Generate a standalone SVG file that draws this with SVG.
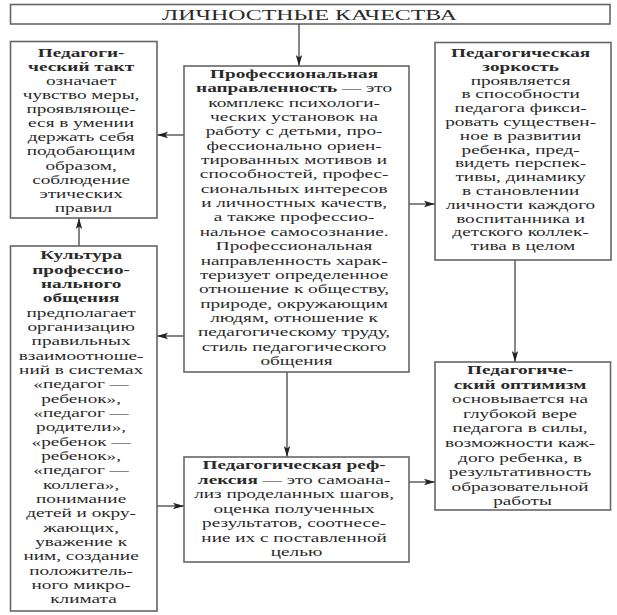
<svg xmlns="http://www.w3.org/2000/svg" width="617" height="615" viewBox="0 0 617 615">
<style>
.box{fill:#fff;stroke:#666;stroke-width:1.6}
.t{font-family:"Liberation Serif","Times New Roman",serif;font-size:13px;fill:#2a2a2a;text-anchor:middle}
.b{font-weight:bold}
.c{stroke:#444;stroke-width:1.3;fill:none}
</style>
<defs>
<marker id="ah" markerUnits="userSpaceOnUse" markerWidth="12" markerHeight="8" refX="11" refY="4" orient="auto">
<path d="M0,0.8 L11,4 L0,7.2 L2.5,4 Z" fill="#222"/>
</marker>
</defs>
<rect width="617" height="615" fill="#fff"/>

<g id="title">
<rect class="box" x="10.5" y="4.5" width="599.5" height="19.5"/>
<text class="t" style="font-size:14px" x="309.5" y="20" textLength="295" lengthAdjust="spacingAndGlyphs">ЛИЧНОСТНЫЕ КАЧЕСТВА</text>
</g>

<g id="connectors">
<line class="c" x1="299" y1="24" x2="299" y2="66" marker-end="url(#ah)"/>
<line class="c" x1="184" y1="135" x2="157" y2="135" marker-end="url(#ah)"/>
<line class="c" x1="409" y1="204" x2="435" y2="204" marker-end="url(#ah)"/>
<line class="c" x1="79" y1="246" x2="79" y2="218" marker-end="url(#ah)"/>
<line class="c" x1="184" y1="336" x2="157" y2="336" marker-end="url(#ah)"/>
<line class="c" x1="287" y1="372" x2="287" y2="457" marker-end="url(#ah)"/>
<line class="c" x1="157" y1="506" x2="184" y2="506" marker-end="url(#ah)"/>
<line class="c" x1="515" y1="260" x2="515" y2="362" marker-end="url(#ah)"/>
<line class="c" x1="409" y1="482" x2="435" y2="482" marker-end="url(#ah)"/>
</g>

<g id="tact">
<rect class="box" x="10.5" y="41.5" width="146.5" height="176.5"/>
<g transform="translate(83.5,0) scale(1.48,1)">
<text class="t">
<tspan class="b" x="0" y="57">Педагоги-</tspan>
<tspan class="b" x="0" y="71">ческий такт</tspan>
<tspan x="0" y="85">означает</tspan>
<tspan x="0" y="99">чувство меры,</tspan>
<tspan x="0" y="113">проявляюще-</tspan>
<tspan x="0" y="127">еся в умении</tspan>
<tspan x="0" y="141.5">держать себя</tspan>
<tspan x="0" y="155.5">подобающим</tspan>
<tspan x="0" y="170">образом,</tspan>
<tspan x="0" y="184">соблюдение</tspan>
<tspan x="0" y="198">этических</tspan>
<tspan x="0" y="212.5">правил</tspan>
</text>
</g>
</g>

<g id="orientation">
<rect class="box" x="184" y="66" width="225" height="306"/>
<g transform="translate(296.5,0) scale(1.48,1)">
<text class="t">
<tspan class="b" x="0" y="78">Профессиональная</tspan>
<tspan x="0" y="92.3"><tspan class="b">направленность</tspan> — это</tspan>
<tspan x="0" y="106.7">комплекс психологи-</tspan>
<tspan x="0" y="121">ческих установок на</tspan>
<tspan x="0" y="135.4">работу с детьми, про-</tspan>
<tspan x="0" y="149.8">фессионально ориен-</tspan>
<tspan x="0" y="164.1">тированных мотивов и</tspan>
<tspan x="0" y="178.5">способностей, профес-</tspan>
<tspan x="0" y="192.8">сиональных интересов</tspan>
<tspan x="0" y="207.2">и личностных качеств,</tspan>
<tspan x="0" y="221.5">а также профессио-</tspan>
<tspan x="0" y="235.9">нальное самосознание.</tspan>
<tspan x="0" y="250.2">Профессиональная</tspan>
<tspan x="0" y="264.6">направленность харак-</tspan>
<tspan x="0" y="278.9">теризует определенное</tspan>
<tspan x="0" y="293.3">отношение к обществу,</tspan>
<tspan x="0" y="307.6">природе, окружающим</tspan>
<tspan x="0" y="322">людям, отношение к</tspan>
<tspan x="0" y="336.3">педагогическому труду,</tspan>
<tspan x="0" y="350.7">стиль педагогического</tspan>
<tspan x="0" y="365">общения</tspan>
</text>
</g>
</g>

<g id="vigilance">
<rect class="box" x="435" y="42.5" width="176" height="217.5"/>
<g transform="translate(523,0) scale(1.48,1)">
<text class="t">
<tspan class="b" x="0" y="57">Педагогическая</tspan>
<tspan class="b" x="0" y="70.8">зоркость</tspan>
<tspan x="0" y="84.6">проявляется</tspan>
<tspan x="0" y="98.4">в способности</tspan>
<tspan x="0" y="112.2">педагога фикси-</tspan>
<tspan x="0" y="126">ровать существен-</tspan>
<tspan x="0" y="139.8">ное в развитии</tspan>
<tspan x="0" y="153.6">ребенка, пред-</tspan>
<tspan x="0" y="167.4">видеть перспек-</tspan>
<tspan x="0" y="181.2">тивы, динамику</tspan>
<tspan x="0" y="195">в становлении</tspan>
<tspan x="0" y="208.8">личности каждого</tspan>
<tspan x="0" y="222.6">воспитанника и</tspan>
<tspan x="0" y="236.4">детского коллек-</tspan>
<tspan x="0" y="250.2">тива в целом</tspan>
</text>
</g>
</g>

<g id="culture">
<rect class="box" x="10.5" y="246" width="146.5" height="365"/>
<g transform="translate(83.5,0) scale(1.48,1)">
<text class="t">
<tspan class="b" x="0" y="259.5">Культура</tspan>
<tspan class="b" x="0" y="273.8">профессио-</tspan>
<tspan class="b" x="0" y="288.2">нального</tspan>
<tspan class="b" x="0" y="302.5">общения</tspan>
<tspan x="0" y="316.8">предполагает</tspan>
<tspan x="0" y="331.2">организацию</tspan>
<tspan x="0" y="345.5">правильных</tspan>
<tspan x="0" y="359.8">взаимоотноше-</tspan>
<tspan x="0" y="374.2">ний в системах</tspan>
<tspan x="0" y="388.5">«педагог —</tspan>
<tspan x="0" y="402.8">ребенок»,</tspan>
<tspan x="0" y="417.2">«педагог —</tspan>
<tspan x="0" y="431.5">родители»,</tspan>
<tspan x="0" y="445.8">«ребенок —</tspan>
<tspan x="0" y="460.2">ребенок»,</tspan>
<tspan x="0" y="474.5">«педагог —</tspan>
<tspan x="0" y="488.8">коллега»,</tspan>
<tspan x="0" y="503.2">понимание</tspan>
<tspan x="0" y="517.5">детей и окру-</tspan>
<tspan x="0" y="531.8">жающих,</tspan>
<tspan x="0" y="546.2">уважение к</tspan>
<tspan x="0" y="560.5">ним, создание</tspan>
<tspan x="0" y="574.8">положитель-</tspan>
<tspan x="0" y="589.2">ного микро-</tspan>
<tspan x="0" y="603.5">климата</tspan>
</text>
</g>
</g>

<g id="reflection">
<rect class="box" x="184" y="457" width="225" height="105"/>
<g transform="translate(296.5,0) scale(1.48,1)">
<text class="t">
<tspan class="b" x="0" y="469.5">Педагогическая реф-</tspan>
<tspan x="0" y="484"><tspan class="b">лексия</tspan> — это самоана-</tspan>
<tspan x="0" y="498.5">лиз проделанных шагов,</tspan>
<tspan x="0" y="513">оценка полученных</tspan>
<tspan x="0" y="527.5">результатов, соотнесе-</tspan>
<tspan x="0" y="542">ние их с поставленной</tspan>
<tspan x="0" y="556.5">целью</tspan>
</text>
</g>
</g>

<g id="optimism">
<rect class="box" x="435" y="362" width="175.5" height="148"/>
<g transform="translate(522.5,0) scale(1.48,1)">
<text class="t">
<tspan class="b" x="0" y="374">Педагогиче-</tspan>
<tspan class="b" x="0" y="388.6">ский оптимизм</tspan>
<tspan x="0" y="403.2">основывается на</tspan>
<tspan x="0" y="417.8">глубокой вере</tspan>
<tspan x="0" y="432.4">педагога в силы,</tspan>
<tspan x="0" y="447">возможности каж-</tspan>
<tspan x="0" y="461.6">дого ребенка, в</tspan>
<tspan x="0" y="476.2">результативность</tspan>
<tspan x="0" y="490.8">образовательной</tspan>
<tspan x="0" y="505.4">работы</tspan>
</text>
</g>
</g>
</svg>
